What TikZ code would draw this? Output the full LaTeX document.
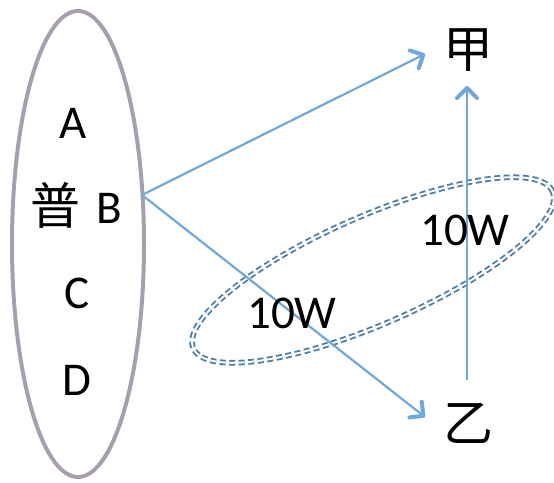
\documentclass[tikz,border=0pt]{standalone}
\usepackage{fontspec}
\setmainfont{Carlito}
\newfontfamily\cjk{Noto Sans CJK SC}
\usetikzlibrary{arrows.meta}
\definecolor{ellc}{HTML}{A89EB0}
\definecolor{arrc}{HTML}{6FA8DC}
\definecolor{dashc}{HTML}{4A7BA6}
\begin{document}
\begin{tikzpicture}[x=1pt,y=-1pt,
  lbl/.style={font=\fontsize{47}{50}\selectfont, inner sep=0pt},
  cj/.style={font=\fontsize{50}{54}\selectfont\cjk, inner sep=0pt},
  arr/.style={draw=arrc, line width=2.2pt, -{Straight Barb[length=10pt,width=20pt,line width=4pt,round]}},
  dashring/.style={draw=dashc, double=white, double distance=2pt, line width=1.8pt, dash pattern=on 6pt off 3.5pt}]
\useasboundingbox (0,0) rectangle (554,482);
\draw[line width=4pt, draw=ellc] (78,244) ellipse [x radius=66pt, y radius=233pt];
\node[lbl] (A) at (73,123) {A};
\node[cj] (pu) at (55,205) {普};
\node[lbl] (B) at (109,208) {B};
\node[lbl] (C) at (77,293) {C};
\node[lbl] (D) at (77,380) {D};
\node[cj] (jia) at (468,50) {甲};
\node[cj] (yi) at (468,423) {乙};
\coordinate (bs) at (142,195);
\coordinate (jt) at (425,54);
\coordinate (yt) at (425,417);
\coordinate (vs) at (467,380);
\coordinate (vt) at (467,86);
\draw[dashring, shift={(373,270)}, rotate=23.6] (0,0) ellipse [x radius=196pt, y radius=54pt];
\draw[arr] (bs) -- (jt);
\draw[arr] (bs) -- (yt);
\draw[arr] (vs) -- (vt);
\node[lbl] (w1) at (292,313) {10W};
\node[lbl] (w2) at (465,230) {10W};
\end{tikzpicture}
\end{document}
